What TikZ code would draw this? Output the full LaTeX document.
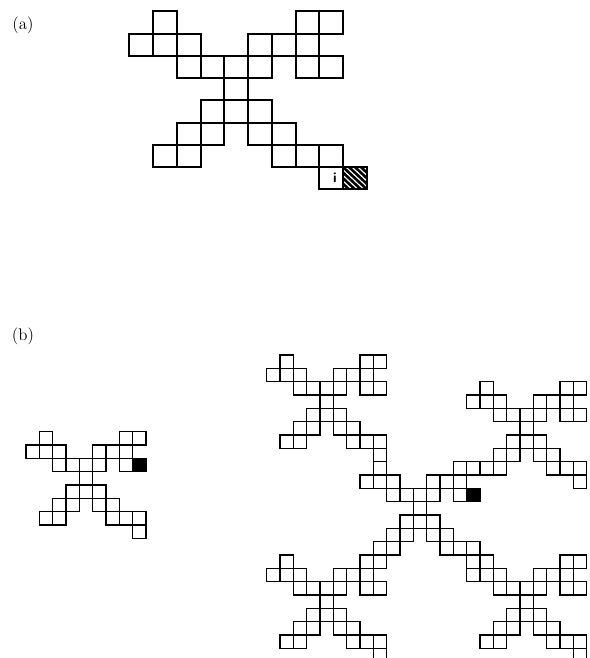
\documentclass[tikz,border=0pt]{standalone}
\usepackage{tikz}
\tikzset{
  cell/.style={draw=black, line width=#1},
  cell/.default=1.7pt,
  cellF/.style={draw=black, fill=black, line width=#1},
  cellF/.default=1.2pt,
  hatch/.style={line width=2.2pt}}
% one cluster of 29 sites, in cell units
\newcommand{\drawcluster}[1]{%
  \foreach \c/\r in {1/0,7/0,8/0, 0/1,1/1,2/1,5/1,6/1,7/1, 2/2,3/2,4/2,5/2,7/2,8/2,
                     4/3, 3/4,4/4,5/4, 2/5,3/5,5/5,6/5, 1/6,2/6,6/6,7/6,8/6, 8/7}{
    \draw[cell=#1] (\c,\r) rectangle ++(1,1);}}

\begin{document}
\begin{tikzpicture}[x=0.03cm, y=-0.03cm]
  \useasboundingbox (0,0) rectangle (590,658);
  \clip (0,0) rectangle (590,658);
  \node[font=\Large] (labA) at (23,25) {(a)};
  \node[font=\Large] (labB) at (23,336) {(b)};
  % (a): the cluster, site i and its hatched neighbour
  \begin{scope}[shift={(129.3,11.3)}, x=0.7125cm, y=-0.6675cm]
    \drawcluster{1.7pt}
    \begin{scope}
      \clip (9,7) rectangle (10,8);
      \foreach \k in {-1,-0.75,...,0.75}{\draw[hatch] (9+\k,7) -- ++(1,1);}
    \end{scope}
    \draw[cell] (9,7) rectangle ++(1,1);
    \node[font=\large\sffamily\bfseries] (site) at (8.66,7.48) {i};
  \end{scope}
  % (b) left: same cluster, one site filled
  \begin{scope}[shift={(26,431.7)}, x=0.4cm, y=-0.4cm]
    \drawcluster{1.2pt}
    \draw[cellF] (8,2) rectangle ++(1,1);
  \end{scope}
  % (b) right: five clusters joined up
  \begin{scope}[shift={(266.7,355)}, x=0.4cm, y=-0.4cm]
    \foreach \sx/\sy in {0/0, 15/2, 7/8, 0/15, 15/15}{
      \begin{scope}[shift={(\sx,\sy)}]
        \drawcluster{1.2pt}
      \end{scope}}
    \draw[cellF] (15,10) rectangle ++(1,1);
  \end{scope}
\end{tikzpicture}
\end{document}
